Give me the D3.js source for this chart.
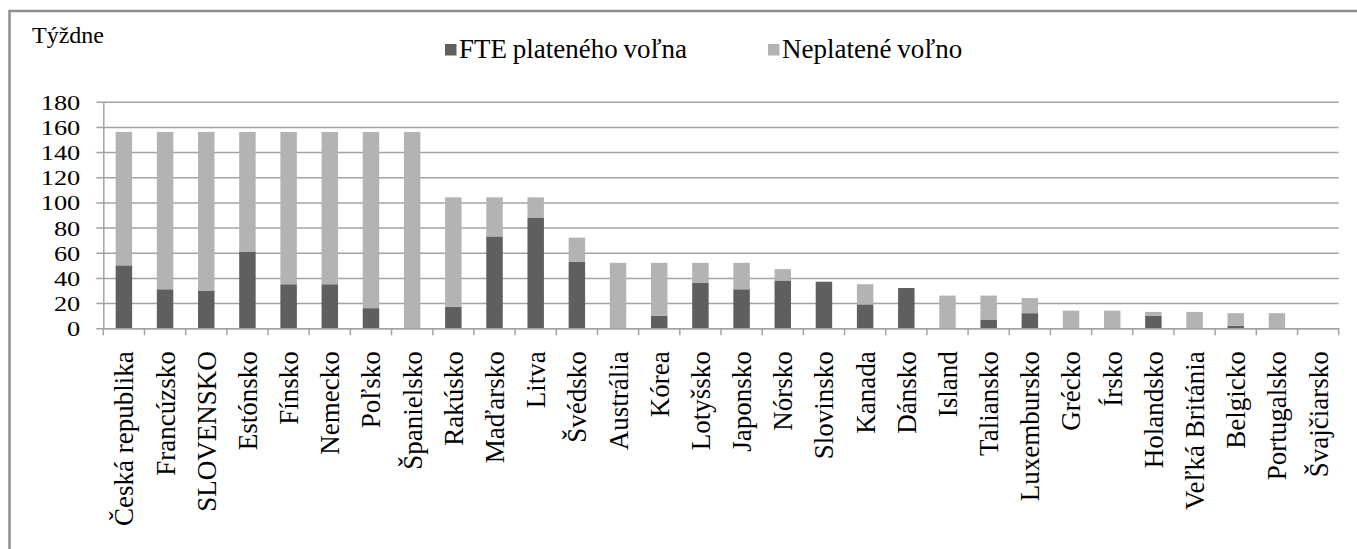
<!DOCTYPE html>
<html>
<head>
<meta charset="utf-8">
<script src="https://cdn.jsdelivr.net/npm/d3@7"></script>
<style>
  html, body { margin: 0; padding: 0; background: #fff; }
  svg { display: block; }
  text { font-family: "Liberation Serif", "Times New Roman", serif; fill: #000; }
</style>
</head>
<body>
<svg id="chart" width="1357" height="549"></svg>
<script>
const categories = ["Česká republika","Francúzsko","SLOVENSKO","Estónsko","Fínsko","Nemecko","Poľsko","Španielsko","Rakúsko","Maďarsko","Litva","Švédsko","Austrália","Kórea","Lotyšsko","Japonsko","Nórsko","Slovinsko","Kanada","Dánsko","Island","Taliansko","Luxembursko","Grécko","Írsko","Holandsko","Veľká Británia","Belgicko","Portugalsko","Švajčiarsko"];
const paidFTE = [50,31,30,61,35,35,16,0,17,73,88,53,0,10,36,31,38,37,19,32,0,7,12,0,0,10,0,2,0,0];
const unpaid  = [106,125,126,95,121,121,140,156,87,31,16,19,52,42,16,21,9,0,16,0,26,19,12,14,14,3,13,10,12,0];
const seriesNames = ["FTE plateného voľna","Neplatené voľno"];
const yTicks = [0,20,40,60,80,100,120,140,160,180];
const yTitle = "Týždne";

const colors = ["#5f5f5f","#b3b3b3"];
const gridColor = "#a3a3a3";
const serif = "'Liberation Serif', 'Times New Roman', serif";

const svg = d3.select("#chart");
svg.append("rect").attr("width",1357).attr("height",549).attr("fill","#fff");

// frame (only left and top visible)
svg.append("path").attr("d","M9.5,549 V11 H1357").attr("fill","none")
   .attr("stroke","#8f8f8f").attr("stroke-width",2.5);

const x0 = 103.3, x1 = 1338.7, yBase = 328.3, yTop = 101.7;
const x = d3.scaleBand().domain(categories).range([x0,x1]).paddingInner(0.6).paddingOuter(0.3);
const y = d3.scaleLinear().domain([0,180]).range([yBase,yTop]);

// gridlines + y axis
const yAxis = d3.axisLeft(y).tickValues(yTicks).tickSize(-(x1-x0)).tickSizeOuter(0).tickPadding(23);
const gy = svg.append("g").attr("transform",`translate(${x0},0)`).call(yAxis);
gy.attr("font-family",null);
gy.select(".domain").attr("stroke",gridColor).attr("stroke-width",1.5);
gy.selectAll(".tick line").attr("stroke",gridColor).attr("stroke-width",1.5).attr("x1",-7);
gy.selectAll(".tick text")
  .style("font-family",serif).attr("font-size",22)
  .attr("text-anchor","end").attr("x",0).attr("dy","0.34em")
  .attr("transform","translate(-23,0) scale(1.2,1)");

// stacked bars
const data = categories.map((c,i)=>({cat:c, paid:paidFTE[i], unpaid:unpaid[i]}));
const stack = d3.stack().keys(["paid","unpaid"])(data);
svg.append("g").selectAll("g").data(stack).join("g")
  .attr("fill",(d,i)=>colors[i])
  .selectAll("rect").data(d=>d).join("rect")
  .attr("x",d=>x(d.data.cat))
  .attr("width",x.bandwidth())
  .attr("y",d=>y(d[1]))
  .attr("height",d=>Math.max(0,y(d[0])-y(d[1])));

// x axis
const xAxis = d3.axisBottom(x).tickSize(0).tickSizeOuter(0);
const gx = svg.append("g").attr("transform",`translate(0,${yBase})`).call(xAxis);
gx.attr("font-family",null);
gx.select(".domain").attr("stroke",gridColor).attr("stroke-width",1.5);
gx.selectAll(".tick text")
  .style("font-family",serif).attr("font-size",27)
  .attr("text-anchor","end")
  .attr("transform","rotate(-90)")
  .attr("x",-23).attr("y",0).attr("dy","0.35em");
// category boundary ticks
const bounds = categories.map(c=>x(c)-x.step()*x.paddingOuter()).concat([x1]);
gx.selectAll("line.bound").data(bounds).join("line").attr("class","bound")
  .attr("x1",d=>d).attr("x2",d=>d).attr("y1",0).attr("y2",7)
  .attr("stroke",gridColor).attr("stroke-width",1.5);

// title
svg.append("text").attr("x",32).attr("y",43).style("font-family",serif).attr("font-size",24).text(yTitle);

// legend
const legX = [445,768];
seriesNames.forEach((n,i)=>{
  svg.append("rect").attr("x",legX[i]).attr("y",44).attr("width",11.5).attr("height",11.5).attr("fill",colors[i]);
  svg.append("text").attr("x",legX[i]+14).attr("y",58).style("font-family",serif)
     .attr("font-size",27).attr("word-spacing",-1).text(n);
});
</script>
</body>
</html>
